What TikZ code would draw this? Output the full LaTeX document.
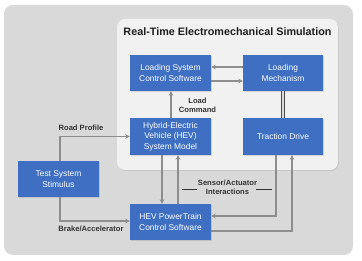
\documentclass[tikz,border=0pt]{standalone}
\usepackage{fontspec}
\setmainfont{Liberation Sans}
\usetikzlibrary{arrows.meta,shadows}
\definecolor{boxblue}{HTML}{3E6FC2}
\definecolor{outergray}{HTML}{D9D9D9}
\definecolor{innergray}{HTML}{F1F1F1}
\definecolor{arrgray}{HTML}{8E8E8E}
\definecolor{labeldark}{HTML}{333333}
\begin{document}
\begin{tikzpicture}[x=1pt,y=-1pt,
  blk/.style={draw=none,fill=boxblue,text=white,align=center,
    minimum width=81pt,minimum height=36pt,inner sep=1pt,
    font=\fontsize{8.4}{10.5}\selectfont,
    drop shadow={opacity=0.25,shadow xshift=0.6pt,shadow yshift=-0.8pt}},
  arr/.style={draw=arrgray,line width=1.3pt,-{Stealth[length=4.5pt,width=4.5pt]}},
  lbl/.style={text=labeldark,align=center,font=\fontsize{7.6}{9}\selectfont\bfseries,inner sep=0pt},
  dashln/.style={draw=labeldark,line width=1pt}
]
\useasboundingbox (0,0) rectangle (362,261);
\fill[white] (0,0) rectangle (362,261);
\fill[outergray,rounded corners=9pt] (4,5) rectangle (353,255);
\fill[innergray,rounded corners=8pt,drop shadow={opacity=0.2,shadow xshift=0.8pt,shadow yshift=-1pt}] (117,19) rectangle (338,170);
\node[text=black!88,font=\fontsize{10.8}{12}\selectfont\bfseries,inner sep=0pt] (title) at (227.5,32) {Real-Time Electromechanical Simulation};

\node[blk] (lscs) at (170.5,73) {Loading System\\Control Software};
\node[blk,minimum width=80pt] (lm) at (283,73) {Loading\\Mechanism};
\node[blk,minimum height=37pt] (hev) at (170.5,136.5) {Hybrid-Electric\\Vehicle (HEV)\\System Model};
\node[blk,minimum width=80pt,minimum height=37pt] (td) at (283,136.5) {Traction Drive};
\node[blk] (tss) at (58.5,179) {Test System\\Stimulus};
\node[blk] (pt) at (170.5,222) {HEV PowerTrain\\Control Software};

% links in simulation box
\draw[arr] ([yshift=6pt]lm.west) -- ([yshift=6pt]lscs.east);
\draw[arr] ([yshift=-8pt]lscs.east) -- ([yshift=-8pt]lm.west);
\draw[draw=black!70,line width=0.9pt,double=innergray!80!gray,double distance=1.6pt] (lm.south) -- (td.north);
\draw[arr] ([xshift=0.5pt]hev.north) -- ([xshift=0.5pt]lscs.south);
\node[lbl] (lc) at (197.5,105.5) {Load\\Command};

% stimulus
\draw[arr] ([xshift=1.5pt]tss.north) |- (hev.west);
\node[lbl,anchor=south] (rp) at (81,131) {Road Profile};
\draw[arr] ([xshift=1.5pt]tss.south) |- ([yshift=1pt]pt.west);
\node[lbl,anchor=north] (ba) at (91,226) {Brake/Accelerator};

% model <-> powertrain
\draw[arr] ([xshift=-8.5pt]hev.south) -- ([xshift=-8.5pt]pt.north);
\draw[arr] ([xshift=7.5pt]pt.north) -- ([xshift=7.5pt]hev.south);

% traction drive <-> powertrain
\draw[arr] ([xshift=-7pt]td.south) |- ([yshift=6pt]pt.east);
\draw[arr] ([yshift=-9pt]pt.east) -| ([xshift=9pt]td.south);

\node[lbl] (sai) at (227.5,187.5) {Sensor/Actuator\\Interactions};
\draw[dashln] (182,189.5) -- (197,189.5);
\draw[dashln] (256,189.5) -- (272,189.5);
\end{tikzpicture}
\end{document}
